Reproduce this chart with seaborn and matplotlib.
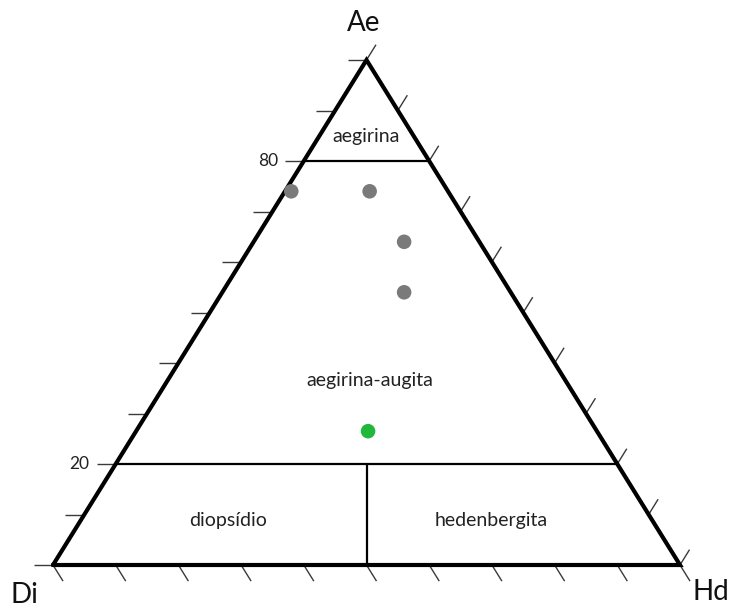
import matplotlib
matplotlib.use("Agg")
import matplotlib.pyplot as plt
import numpy as np
import pandas as pd
import seaborn as sns

# Sample compositions (mol %) of the pyroxenes: Ae = aegirine, Di = diopside, Hd = hedenbergite
ae = [74, 74, 64, 54, 26.5]
di = [25, 12.5, 12, 17, 36.5]
hd = [1, 13.5, 24, 29, 37]
grupo = ["A", "A", "A", "A", "B"]
cores = {"A": "#7a7a7a", "B": "#1fb83c"}

# Classification boundaries (Ae %) and labelled ticks
limites_ae = [80, 20]
rotulos_ticks = ["80", "20"]

sns.set_theme(style="white")
plt.rcParams["font.family"] = ["Lato", "DejaVu Sans"]

W, H = 732, 608
fig = plt.figure(figsize=(W / 100, H / 100), dpi=100)
ax = fig.add_axes([0, 0, 1, 1])

# triangle geometry in pixels: base 627 px wide, 505 px tall
BASE_PX, ALT_PX = 627.0, 505.0
ax.set_xlim(-53 / BASE_PX, (W - 53) / BASE_PX)
ax.set_ylim(-(H - 565) / ALT_PX, 565 / ALT_PX)
ax.axis("off")


def cart(a, d, h):
    """Ternary (Ae, Di, Hd) -> cartesian, Di at (0,0), Hd at (1,0), Ae at (0.5,1)."""
    s = a + d + h
    return h / s + 0.5 * a / s, a / s


df = pd.DataFrame({"Ae": ae, "Di": di, "Hd": hd, "grupo": grupo})
df["x"], df["y"] = cart(df["Ae"].to_numpy(float), df["Di"].to_numpy(float), df["Hd"].to_numpy(float))

# ticks (drawn first so the frame covers their roots)
tick_kw = dict(color="#3a3a3a", lw=1.0, solid_capstyle="butt", zorder=1)
L = 19.0


def px_vec(ux, uy, length):
    n = np.hypot(ux, uy)
    return length * ux / n / BASE_PX, length * uy / n / ALT_PX


for i in range(11):
    f = i / 10
    # left side (Ae scale): horizontal, pointing left
    x0, y0 = f / 2, f
    dx, dy = px_vec(-1, 0, L)
    ax.plot([x0, x0 + dx], [y0, y0 + dy], **tick_kw)
    # right side (Hd scale): parallel to the Di-Ae edge, pointing up-right
    x0, y0 = 1 - f / 2, f
    dx, dy = px_vec(0.5 * BASE_PX, ALT_PX, 18)
    ax.plot([x0, x0 + dx], [y0, y0 + dy], **tick_kw)
    # base (Di scale): parallel to the Ae-Hd edge, pointing down-right
    x0, y0 = f, 0
    dx, dy = px_vec(0.5 * BASE_PX, -ALT_PX, 19)
    ax.plot([x0, x0 + dx], [y0, y0 + dy], **tick_kw)

# internal field boundaries
for a in limites_ae:
    fa = a / 100
    ax.plot([fa / 2, 1 - fa / 2], [fa, fa], color="black", lw=1.6, zorder=2)
ax.plot([0.5, 0.5], [0, limites_ae[1] / 100], color="black", lw=1.6, zorder=2)

# outer frame
ax.plot([0, 1, 0.5, 0], [0, 0, 1, 0], color="black", lw=3.0, solid_joinstyle="miter", zorder=3)

# labelled ticks on the Ae scale
for a, t in zip(limites_ae, rotulos_ticks):
    fa = a / 100
    ax.text(fa / 2 - 26 / BASE_PX, fa, t, ha="right", va="center", fontsize=12.5, color="#222222")

# samples
sns.scatterplot(data=df, x="x", y="y", hue="grupo", palette=cores, s=110,
                edgecolor="none", legend=False, ax=ax, zorder=4)

# field names
txt = dict(ha="center", va="center", fontsize=14, color="#222222")
ax.text(0.5, 0.848, "aegirina", **txt)
ax.text(0.505, 0.366, "aegirina-augita", **txt)
ax.text(0.279, 0.089, "diopsídio", **txt)
ax.text(0.699, 0.089, "hedenbergita", **txt)

# end-member names
vtx = dict(ha="center", va="center", fontsize=20, color="#111111")
ax.text(0.496, 1.073, "Ae", **vtx)
ax.text(-0.045, -0.059, "Di", **vtx)
ax.text(1.049, -0.053, "Hd", **vtx)

fig.savefig("out.png", dpi=100, facecolor="white")
